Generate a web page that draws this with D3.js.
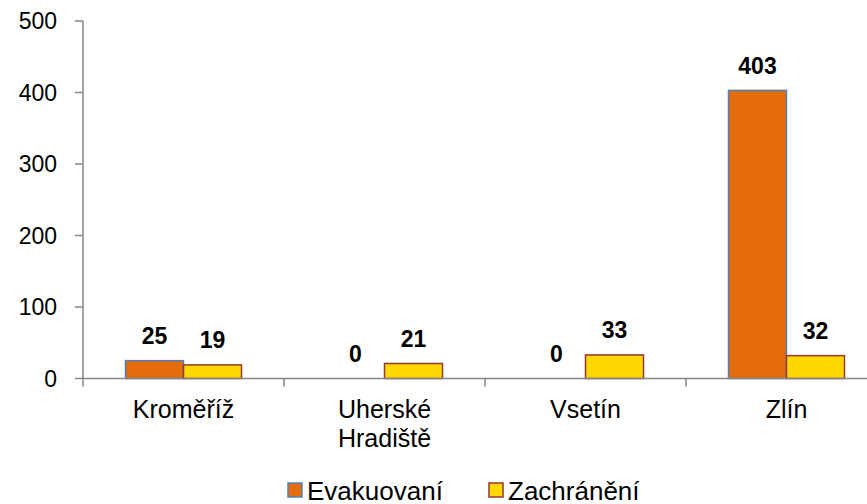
<!DOCTYPE html>
<html>
<head>
<meta charset="utf-8">
<script src="https://cdn.jsdelivr.net/npm/d3@7"></script>
<style>
  body { margin: 0; background: #fff; }
  svg text { font-family: "Liberation Sans", Arial, sans-serif; fill: #000; }
</style>
</head>
<body>
<div id="chart"></div>
<script>
var categories = ["Kroměříž", "Uherské Hradiště", "Vsetín", "Zlín"];
var seriesNames = ["Evakuovaní", "Zachránění"];
var evakuovani = [25, 0, 0, 403];
var zachraneni = [19, 21, 33, 32];
var yTicks = [0, 100, 200, 300, 400, 500];

var fills = ["#E46C0A", "#FFD800"];
var strokes = ["#4F81BD", "#953735"];

var width = 867, height = 504;

var svg = d3.select("#chart").append("svg")
    .attr("width", width)
    .attr("height", height);

var left = 83, bandW = 201;
var x = d3.scaleBand()
    .domain(categories)
    .range([left, left + bandW * categories.length]);

var xs = d3.scaleBand()
    .domain(seriesNames)
    .range([42.5, bandW - 42.5]);

var y = d3.scaleLinear()
    .domain([0, 500])
    .range([378.5, 21]);

var rows = [evakuovani, zachraneni];

// y axis
var yAxis = svg.append("g").attr("transform", "translate(" + left + ",0)");
yAxis.append("line")
    .attr("y1", y(500)).attr("y2", y(0))
    .attr("stroke", "#868686").attr("stroke-width", 1.5);
yAxis.selectAll("line.tick").data(yTicks).enter().append("line")
    .attr("class", "tick")
    .attr("x1", -8).attr("x2", 0)
    .attr("y1", function(d) { return y(d); })
    .attr("y2", function(d) { return y(d); })
    .attr("stroke", "#868686").attr("stroke-width", 1.5);
yAxis.selectAll("text").data(yTicks).enter().append("text")
    .attr("x", -26)
    .attr("y", function(d) { return y(d); })
    .attr("dy", "0.35em")
    .attr("text-anchor", "end")
    .style("font-size", "23px")
    .text(function(d) { return d; });

// bars
categories.forEach(function(c, ci) {
    var g = svg.append("g").attr("transform", "translate(" + x(c) + ",0)");
    seriesNames.forEach(function(s, si) {
        var v = rows[si][ci];
        if (v > 0) {
            g.append("rect")
                .attr("x", xs(s))
                .attr("y", y(v))
                .attr("width", xs.bandwidth())
                .attr("height", y(0) - y(v))
                .attr("fill", fills[si])
                .attr("stroke", strokes[si])
                .attr("stroke-width", 1.5);
        }
        g.append("text")
            .attr("x", xs(s) + xs.bandwidth() / 2)
            .attr("y", y(v) - 16.5)
            .attr("text-anchor", "middle")
            .style("font-size", "23px")
            .style("font-weight", "bold")
            .text(v);
    });
});

// x axis
var xAxis = svg.append("g");
xAxis.append("line")
    .attr("x1", left).attr("x2", left + bandW * categories.length)
    .attr("y1", y(0)).attr("y2", y(0))
    .attr("stroke", "#868686").attr("stroke-width", 1.5);
xAxis.selectAll("line.tick").data(d3.range(categories.length + 1)).enter().append("line")
    .attr("class", "tick")
    .attr("x1", function(i) { return left + i * bandW; })
    .attr("x2", function(i) { return left + i * bandW; })
    .attr("y1", y(0)).attr("y2", y(0) + 8)
    .attr("stroke", "#868686").attr("stroke-width", 1.5);
xAxis.selectAll("text").data(categories).enter().append("text")
    .attr("text-anchor", "middle")
    .style("font-size", "25px")
    .each(function(c) {
        var words = c.split(" ");
        var t = d3.select(this);
        words.forEach(function(w, i) {
            t.append("tspan")
                .attr("x", x(c) + x.bandwidth() / 2)
                .attr("y", 418 + i * 28.7)
                .text(w);
        });
    });

// legend (bottom edge clips it, as in the original)
var legendX = [288, 489];
var legend = svg.append("g");
seriesNames.forEach(function(s, si) {
    legend.append("rect")
        .attr("x", legendX[si]).attr("y", 483)
        .attr("width", 14).attr("height", 14)
        .attr("fill", fills[si])
        .attr("stroke", strokes[si])
        .attr("stroke-width", 1.5);
    legend.append("text")
        .attr("x", legendX[si] + 19)
        .attr("y", 500)
        .style("font-size", "26px")
        .text(s);
});
</script>
</body>
</html>
